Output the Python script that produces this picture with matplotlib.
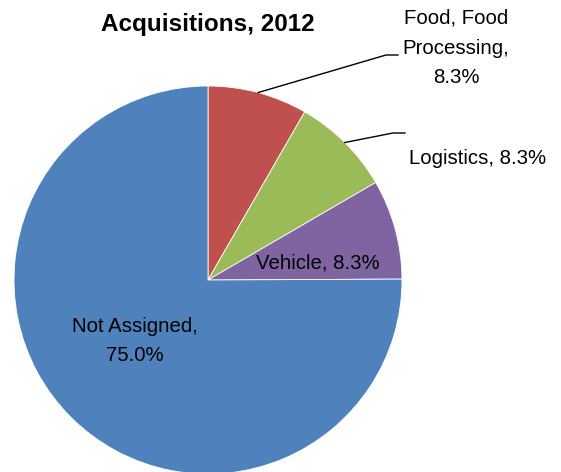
import numpy as np
import matplotlib.pyplot as plt

# data
labels = ["Food, Food\nProcessing,", "Logistics,", "Vehicle,", "Not Assigned,"]
values = [8.3, 8.3, 8.3, 75.0]
colors = ["#C0504D", "#9BBB59", "#8064A2", "#4F81BD"]

plt.rcParams['font.family'] = ['Liberation Sans', 'DejaVu Sans']

fig = plt.figure(figsize=(5.61, 4.72), dpi=100)
ax = fig.add_axes([0, 0, 1, 1])

# pixel layout: pie center at (208, 280), radius 194
s = 194.0

wedges, _ = ax.pie(values, colors=colors, startangle=90, counterclock=False,
                   radius=1, center=(0, 0), frame=True,
                   wedgeprops=dict(edgecolor='white', linewidth=0.6))
ax.set_xlim(-208 / s, (561 - 208) / s)
ax.set_ylim(-(472 - 280) / s, 280 / s)
ax.set_aspect('equal')
ax.axis('off')

texts = [labels[0] + "\n" + "%.1f%%" % values[0],
         labels[1] + " " + "%.1f%%" % values[1],
         labels[2] + " " + "%.1f%%" % values[2],
         labels[3] + "\n" + "%.1f%%" % values[3]]

def px(x, y):
    return ((x - 208) / s, (280 - y) / s)

def mid(w):
    return np.radians((w.theta1 + w.theta2) / 2)

fs = 14.7

# Food label with leader line
a = mid(wedges[0])
p1 = px(386, 55)
p2 = px(398, 55)
ax.plot([np.cos(a), p1[0], p2[0]], [np.sin(a), p1[1], p2[1]], color='black', lw=1)
ax.text(*px(456, 48), texts[0], ha='center', va='center', fontsize=fs,
        linespacing=1.7)

# Logistics label with leader line
a = mid(wedges[1])
p1 = px(393, 133)
p2 = px(405, 133)
ax.plot([np.cos(a), p1[0], p2[0]], [np.sin(a), p1[1], p2[1]], color='black', lw=1)
ax.text(*px(409, 158), texts[1], ha='left', va='center', fontsize=fs)

# inside labels
ax.text(*px(318, 263), texts[2], ha='center', va='center', fontsize=fs)
ax.text(*px(135, 341), texts[3], ha='center', va='center', fontsize=fs,
        linespacing=1.7)

ax.text(*px(208, 24), "Acquisitions, 2012", ha='center', va='center',
        fontsize=17.5, fontweight='bold')

fig.savefig("out.png", dpi=100)
